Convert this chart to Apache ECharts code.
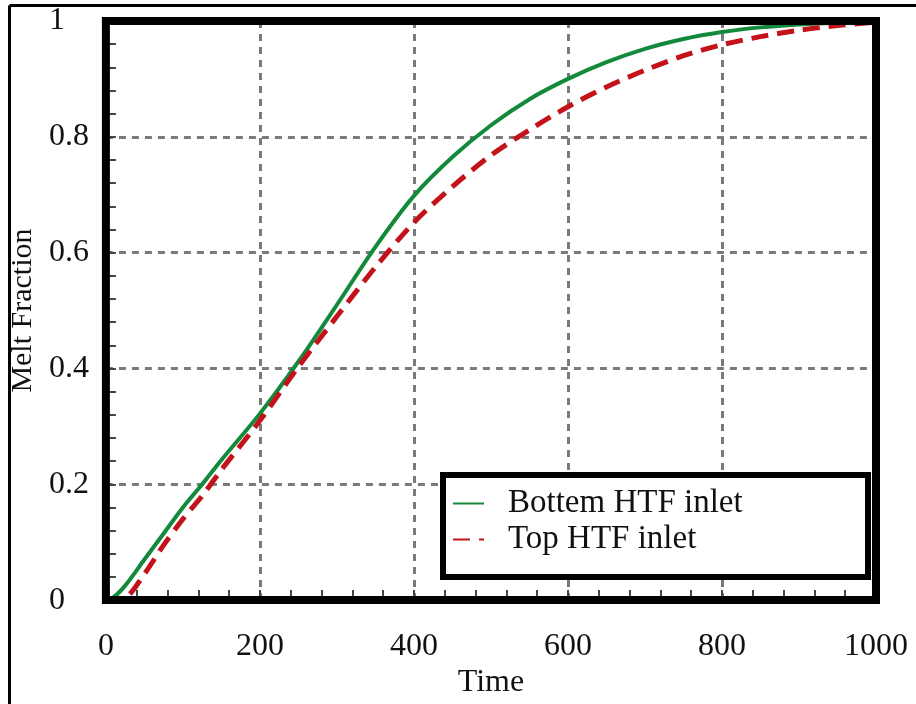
<!DOCTYPE html>
<html>
<head>
<meta charset="utf-8">
<script src="https://cdn.jsdelivr.net/npm/echarts@6/dist/echarts.min.js"></script>
<style>
html,body{margin:0;padding:0;background:#fff;}
#c{width:916px;height:704px;}
</style>
</head>
<body>
<div id="c"></div>
<script>
// Time values (x)
var times = [0, 10, 25, 50, 75, 100, 125, 150, 200, 250, 300, 350, 400, 450, 500, 550, 600, 650, 700, 750, 800, 850, 900, 950, 1000];
// Melt fraction, Bottem HTF inlet (green solid)
var bottemInlet = [0, 0.005, 0.025, 0.07, 0.115, 0.16, 0.2, 0.242, 0.322, 0.412, 0.51, 0.61, 0.698, 0.765, 0.82, 0.865, 0.9, 0.929, 0.952, 0.969, 0.981, 0.989, 0.994, 0.997, 1.0];
// Melt fraction, Top HTF inlet (red dashed)
var topInlet = [0, 0, 0.003, 0.045, 0.095, 0.14, 0.18, 0.225, 0.31, 0.403, 0.49, 0.575, 0.652, 0.714, 0.768, 0.812, 0.852, 0.886, 0.915, 0.94, 0.959, 0.973, 0.984, 0.992, 0.998];
var seriesNames = ['Bottem HTF inlet', 'Top HTF inlet'];

function pairs(xs, ys){ return xs.map(function(x,i){ return [x, ys[i]]; }); }

var FONT = '"Liberation Serif", "Times New Roman", serif';
var chart = echarts.init(document.getElementById('c'), null, {renderer:'canvas'});
chart.setOption({
  animation: false,
  backgroundColor: '#fff',
  grid: {
    left: 103, right: 40, top: 21, bottom: 100,
    show: true, borderColor: '#000', borderWidth: 8, z: 3,
    backgroundColor: 'transparent'
  },
  xAxis: {
    type: 'value', min: 0, max: 1000, interval: 200,
    name: 'Time', nameLocation: 'middle', nameGap: 66,
    nameTextStyle: {fontFamily: FONT, fontSize: 32, color: '#111'},
    axisLine: {show: false},
    axisTick: {show: true, inside: true, length: 10, lineStyle: {color: '#444', width: 2}},
    minorTick: {show: true, splitNumber: 5, length: 10, lineStyle: {color: '#444', width: 2}},
    axisLabel: {fontFamily: FONT, fontSize: 32, color: '#111', margin: 30,
      formatter: function(v){ return String(v); }},
    splitLine: {show: true, lineStyle: {color: '#7a7a7a', width: 3, type: [7, 6]}}
  },
  yAxis: {
    type: 'value', min: 0, max: 1, interval: 0.2,
    name: 'Melt Fraction', nameLocation: 'middle', nameGap: 58, nameRotate: 90,
    nameTextStyle: {fontFamily: FONT, fontSize: 30, color: '#111'},
    axisLine: {show: false},
    axisTick: {show: true, inside: true, length: 10, lineStyle: {color: '#444', width: 2}},
    minorTick: {show: true, splitNumber: 5, length: 10, lineStyle: {color: '#444', width: 2}},
    axisLabel: {fontFamily: FONT, fontSize: 32, color: '#111', margin: 57, align: 'left'},
    splitLine: {show: true, lineStyle: {color: '#7a7a7a', width: 3, type: [7, 6]}}
  },
  legend: {
    orient: 'vertical', left: 447, top: 482, z: 10,
    itemWidth: 31, itemHeight: 12, itemGap: 3,
    itemStyle: {opacity: 0},
    data: seriesNames,
    textStyle: {fontFamily: FONT, fontSize: 33, color: '#111', lineHeight: 31, padding: [0, 0, 0, 19]}
  },
  graphic: [
    {type: 'rect', z: 5, shape: {x: 443, y: 475, width: 425, height: 102},
     style: {fill: '#fff', stroke: '#000', lineWidth: 6}},
    {type: 'line', z: 5, shape: {x1: 9.5, y1: 5.5, x2: 916, y2: 5.5}, style: {stroke: '#000', lineWidth: 3}},
    {type: 'line', z: 5, shape: {x1: 9.5, y1: 5.5, x2: 9.5, y2: 704}, style: {stroke: '#000', lineWidth: 3}}
  ],
  series: [
    {name: seriesNames[0], type: 'line', data: pairs(times, bottemInlet), symbol: 'none', smooth: 0.3,
     lineStyle: {color: '#13893b', width: 4}, itemStyle: {color: '#13893b'}, z: 2},
    {name: seriesNames[1], type: 'line', data: pairs(times, topInlet), symbol: 'none', smooth: 0.3,
     lineStyle: {color: '#c4121a', width: 5, type: [17, 9]}, itemStyle: {color: '#c4121a'}, z: 2}
  ]
});
</script>
</body>
</html>
